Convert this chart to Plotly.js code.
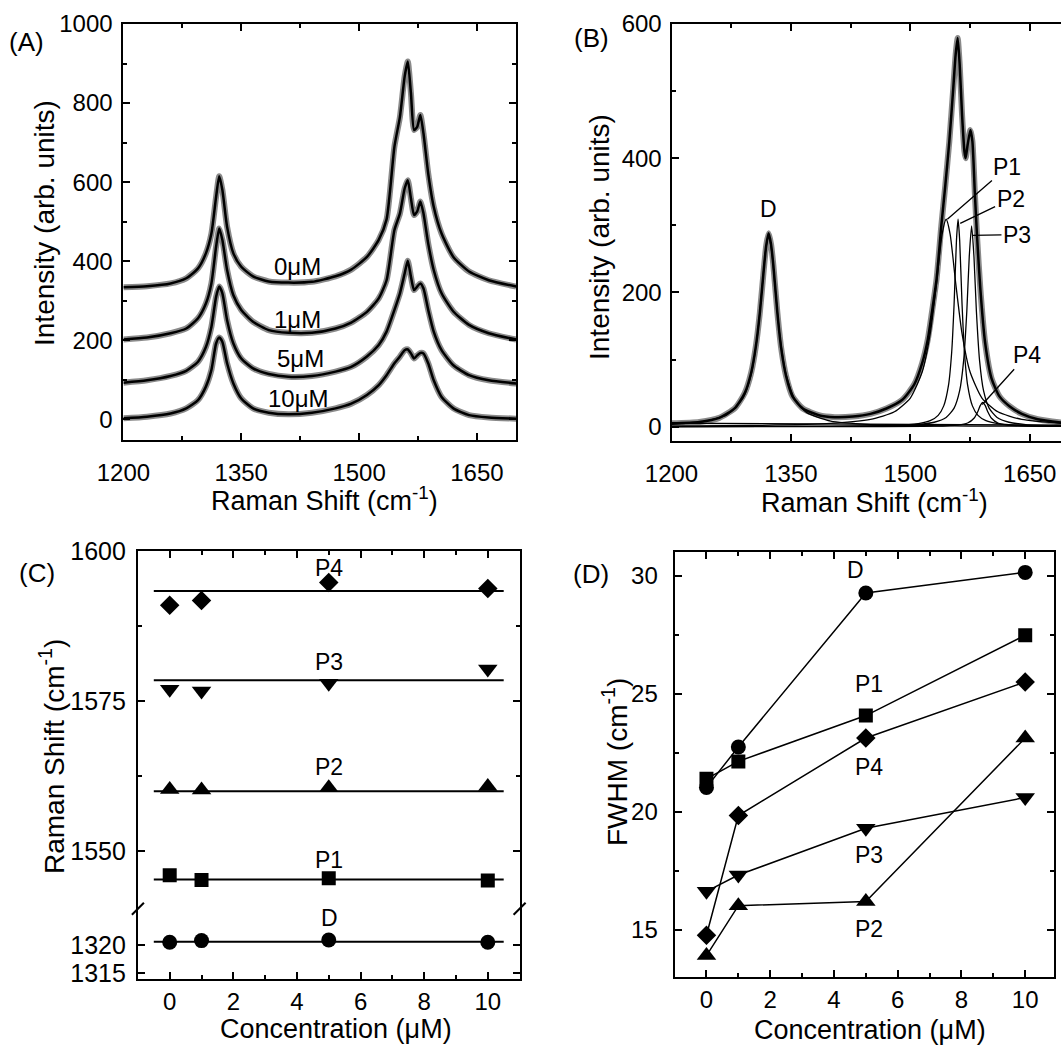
<!DOCTYPE html>
<html><head><meta charset="utf-8">
<script src="https://cdn.plot.ly/plotly-3.0.1.min.js"></script>
<style>html,body{margin:0;padding:0;background:#fff}</style>
</head><body><div id="chart" style="width:1061px;height:1045px"></div>
<script>
// ---------- Panel A: spectra at four concentrations (fit curves) ----------
const shiftA = [1200,1230,1260,1280,1295,1305,1312,1318,1322,1326,1332,1340,1350,1365,1385,1410,1440,1470,1490,1510,1525,1535,1545,1552,1558,1562,1566,1570,1574,1578,1582,1588,1595,1605,1620,1640,1665,1700];
const fit0uM  = [334,337,344,357,382,420,470,563,615,580,487,420,386,362,349,346,348,362,379,411,454,506,690,765,867,905,825,732,740,770,723,622,538,470,411,374,352,336];
const fit1uM  = [202,207,218,230,256,293,344,437,483,454,378,314,277,247,226,219,219,230,245,272,306,352,479,521,584,605,559,517,526,551,521,445,378,319,273,239,218,202];
const fit5uM  = [93,99,110,123,146,183,234,310,336,319,251,192,154,129,115,108,110,121,133,159,188,222,277,319,369,401,361,327,336,344,331,277,222,175,137,112,99,91];
const fit10uM = [3,7,15,28,49,83,125,192,207,196,142,91,53,28,17,13,17,28,40,62,87,112,142,159,175,177,167,154,162,168,167,142,99,57,28,11,5,2];
const labelsA = ['0\u03bcM','1\u03bcM','5\u03bcM','10\u03bcM'];
const labelAx = [1421,1421,1425,1423];
const labelAy = [386,253,154,53];

// ---------- Panel B: one spectrum with its Lorentzian components ----------
const shiftBT = [1200,1235,1260,1280,1292,1300,1306,1311,1316,1319,1322,1325,1328,1333,1338,1344,1352,1365,1385,1405,1428,1450,1470,1490,1505,1515,1522,1527,1533,1539,1544,1549,1554,1557,1559.5,1562,1565,1568,1569.5,1572,1575.5,1578,1581,1584,1588,1594,1602,1612,1625,1640,1660,1690];
const totalB  = [5,7,13,28,50,80,120,170,235,270,288,272,240,170,115,75,45,27,17,14,15,19,27,40,63,95,130,169,220,300,360,425,505,555,579,540,465,410,400,420,442,425,350,280,205,125,72,45,30,19,11,6];
const shiftBD = [1200,1240,1270,1290,1300,1308,1314,1318,1322,1326,1330,1336,1344,1355,1370,1400,1450,1500,1550,1600,1700];
const compD   = [3.4,7.5,17.9,42.7,77.4,136.4,209.5,260,283,260,209.5,136.4,77.4,40.5,20.8,8.2,3.1,1.6,1.0,0.7,0.4];
const shiftBP1 = [1200,1300,1400,1450,1480,1500,1515,1525,1533,1540,1545,1550,1557,1565,1575,1590,1610,1640,1700];
const compP1   = [0.8,1.7,4.7,10.7,22.1,42.6,81.7,138.5,214,287,309,287,214,138.5,81.7,42.6,22.1,10.7,4.1];
const shiftBP2 = [1200,1400,1480,1510,1525,1535,1542,1548,1552,1555,1558,1560,1562,1565,1568,1572,1578,1585,1595,1610,1640,1700];
const compP2   = [0.1,0.4,1.7,4.4,8.8,16.8,30.9,61.8,111.2,182.4,278.1,309,278.1,182.4,111.2,61.8,30.9,16.8,8.8,4.4,1.7,0.6];
const shiftBP3 = [1200,1400,1480,1510,1530,1545,1555,1562,1567,1571,1574,1577,1580,1583,1587,1592,1599,1609,1624,1645,1700];
const compP3   = [0.1,0.5,1.6,3.2,6.5,13.7,27.5,53.5,98.4,172.3,252.5,299,252.5,172.3,98.4,53.5,27.5,13.7,6.5,3.1,1.0];
const shiftBP4 = [1200,1450,1530,1560,1572,1580,1585,1588,1591,1594,1597,1602,1610,1622,1650,1700];
const compP4   = [0,0.1,0.6,2.3,5.4,12.5,23,31.6,36,31.6,23,12.5,5.4,2.3,0.7,0.2];
const baseX = [1200,1700];
const baseY = [5,2];
const peakNames = ['P1','P2','P3','P4'];
const peakTipX  = [1546.5,1562.7,1577.6,1590.4];
const peakTipY  = [309,303,285,33];
const peakTxtX  = [1622,1626,1634,1647];
const peakTxtY  = [387,339,286,107];

// ---------- Panels C & D: peak position and FWHM vs concentration ----------
const conc = [0,1,5,10];
const posD  = [1320.5,1320.8,1320.9,1320.5];
const posP1 = [1546.0,1545.2,1545.5,1545.1];
const posP2 = [1560.3,1560.2,1560.6,1560.8];
const posP3 = [1577.0,1576.7,1578.0,1580.4];
const posP4 = [1591.0,1591.8,1594.8,1593.8];
const fitConc = [-0.5,10.5];
const fitPosD  = [1320.6,1320.6];
const fitPosP1 = [1545.3,1545.3];
const fitPosP2 = [1560.0,1560.0];
const fitPosP3 = [1578.5,1578.5];
const fitPosP4 = [1593.4,1593.4];

const fwhmD  = [21.04,22.75,29.27,30.14];
const fwhmP1 = [21.4,22.14,24.08,27.48];
const fwhmP2 = [13.92,16.03,16.21,23.13];
const fwhmP3 = [16.64,17.33,19.31,20.61];
const fwhmP4 = [14.78,19.85,23.13,25.5];

// ---------- layout helpers ----------
const W = 1061, H = 1045;
const FONT = 'Arial, "Liberation Sans", sans-serif';
const px = v => v / W;
const py = v => 1 - v / H;
const BLACK = '#000', GRAY = '#8a8a8a';

function axis(extra) {
  return Object.assign({
    showline: true, linecolor: BLACK, linewidth: 2, mirror: 'ticks',
    ticks: 'inside', ticklen: 7, tickwidth: 2, tickcolor: BLACK,
    showgrid: false, zeroline: false, tickmode: 'linear',
    tickfont: {family: FONT, size: 24, color: BLACK},
    fixedrange: true
  }, extra);
}
function minor(d, t0) {
  const m = {ticks: 'inside', ticklen: 4, tickwidth: 2, tickcolor: BLACK, showgrid: false, dtick: d};
  if (t0 !== undefined) m.tick0 = t0;
  return m;
}

const traces = [];
// Panel A
const fitsA = [fit0uM, fit1uM, fit5uM, fit10uM];
fitsA.forEach(f => traces.push({x: shiftA, y: f, xaxis: 'x', yaxis: 'y', mode: 'lines',
  line: {color: GRAY, width: 6, shape: 'spline', smoothing: 0.6}, hoverinfo: 'skip', showlegend: false}));
fitsA.forEach(f => traces.push({x: shiftA, y: f, xaxis: 'x', yaxis: 'y', mode: 'lines',
  line: {color: BLACK, width: 2.5, shape: 'spline', smoothing: 0.6}, showlegend: false}));

// Panel B
traces.push({x: shiftBT, y: totalB, xaxis: 'x2', yaxis: 'y2', mode: 'lines',
  line: {color: GRAY, width: 6, shape: 'spline', smoothing: 0.6}, hoverinfo: 'skip', showlegend: false});
traces.push({x: baseX, y: baseY, xaxis: 'x2', yaxis: 'y2', mode: 'lines', line: {color: BLACK, width: 1.3}, showlegend: false});
[[shiftBD, compD], [shiftBP1, compP1], [shiftBP2, compP2], [shiftBP3, compP3], [shiftBP4, compP4]].forEach(c =>
  traces.push({x: c[0], y: c[1], xaxis: 'x2', yaxis: 'y2', mode: 'lines',
    line: {color: BLACK, width: 1.3, shape: 'spline', smoothing: 0.6}, showlegend: false}));
traces.push({x: shiftBT, y: totalB, xaxis: 'x2', yaxis: 'y2', mode: 'lines',
  line: {color: BLACK, width: 2.5, shape: 'spline', smoothing: 0.6}, showlegend: false});

// Panel C
const upperC = [[posP1, fitPosP1, 'square', 14], [posP2, fitPosP2, 'triangle-up', 17],
                [posP3, fitPosP3, 'triangle-down', 17], [posP4, fitPosP4, 'diamond', 15]];
traces.push({x: fitConc, y: fitPosD, xaxis: 'x3', yaxis: 'y3', mode: 'lines', line: {color: BLACK, width: 2}, showlegend: false});
traces.push({x: conc, y: posD, xaxis: 'x3', yaxis: 'y3', mode: 'markers', marker: {symbol: 'circle', size: 15, color: BLACK}, showlegend: false});
upperC.forEach(s => {
  traces.push({x: fitConc, y: s[1], xaxis: 'x4', yaxis: 'y4', mode: 'lines', line: {color: BLACK, width: 2}, showlegend: false});
  traces.push({x: conc, y: s[0], xaxis: 'x4', yaxis: 'y4', mode: 'markers', marker: {symbol: s[2], size: s[3], color: BLACK}, showlegend: false});
});

// Panel D
[[fwhmD, 'circle', 15], [fwhmP1, 'square', 14], [fwhmP2, 'triangle-up', 17], [fwhmP3, 'triangle-down', 17], [fwhmP4, 'diamond', 15]].forEach(s =>
  traces.push({x: conc, y: s[0], xaxis: 'x5', yaxis: 'y5', mode: 'lines+markers',
    line: {color: BLACK, width: 1.5}, marker: {symbol: s[1], size: s[2], color: BLACK}, showlegend: false}));

// ---------- annotations ----------
const ann = [];
function txt(x, y, text, size, extra) {
  ann.push(Object.assign({x: x, y: y, text: text, showarrow: false, xanchor: 'center', yanchor: 'middle',
    font: {family: FONT, size: size, color: BLACK}}, extra || {}));
}
// panel letters
txt(px(26), py(42), '(A)', 26, {xref: 'paper', yref: 'paper'});
txt(px(591), py(38), '(B)', 26, {xref: 'paper', yref: 'paper'});
txt(px(37), py(573), '(C)', 26, {xref: 'paper', yref: 'paper'});
txt(px(591), py(574), '(D)', 26, {xref: 'paper', yref: 'paper'});
// axis titles
const ramanTitle = 'Raman Shift (cm<sup>-1</sup>)';
txt(px(45), py(223), 'Intensity (arb. units)', 28, {xref: 'paper', yref: 'paper', textangle: -90});
txt(px(324), py(499), ramanTitle, 27, {xref: 'paper', yref: 'paper'});
txt(px(599), py(237), 'Intensity (arb. units)', 28, {xref: 'paper', yref: 'paper', textangle: -90});
txt(px(874), py(501), ramanTitle, 27, {xref: 'paper', yref: 'paper'});
txt(px(52), py(757), ramanTitle, 28, {xref: 'paper', yref: 'paper', textangle: -90});
txt(px(336), py(1029), 'Concentration (\u03bcM)', 27, {xref: 'paper', yref: 'paper'});
txt(px(615), py(762), 'FWHM (cm<sup>-1</sup>)', 28, {xref: 'paper', yref: 'paper', textangle: -90});
txt(px(870), py(1030), 'Concentration (\u03bcM)', 27, {xref: 'paper', yref: 'paper'});
// panel A concentration labels
labelsA.forEach((t, i) => txt(labelAx[i], labelAy[i], t, 24, {xref: 'x', yref: 'y'}));
// panel B labels
txt(1322, 324, 'D', 23, {xref: 'x2', yref: 'y2'});
peakNames.forEach((n, i) => ann.push({x: peakTipX[i], y: peakTipY[i], xref: 'x2', yref: 'y2',
  ax: peakTxtX[i], ay: peakTxtY[i], axref: 'x2', ayref: 'y2', text: n, showarrow: true,
  arrowhead: 0, arrowwidth: 1.3, arrowcolor: BLACK, standoff: 0, startstandoff: 0,
  font: {family: FONT, size: 23, color: BLACK}}));
// panel C labels
txt(5.02, 1597.3, 'P4', 23, {xref: 'x4', yref: 'y4'});
txt(5.02, 1581.5, 'P3', 23, {xref: 'x4', yref: 'y4'});
txt(5.02, 1564.0, 'P2', 23, {xref: 'x4', yref: 'y4'});
txt(5.02, 1548.5, 'P1', 23, {xref: 'x4', yref: 'y4'});
txt(5.02, 1324.9, 'D', 23, {xref: 'x3', yref: 'y3'});
// panel D labels
txt(4.66, 30.23, 'D', 23, {xref: 'x5', yref: 'y5'});
txt(5.1, 25.42, 'P1', 23, {xref: 'x5', yref: 'y5'});
txt(5.1, 21.91, 'P4', 23, {xref: 'x5', yref: 'y5'});
txt(5.1, 18.17, 'P3', 23, {xref: 'x5', yref: 'y5'});
txt(5.1, 15.05, 'P2', 23, {xref: 'x5', yref: 'y5'});

// axis-break marks in panel C
const brkY = 908.8;
const shapes = [137.9, 519.6].map(x0 => ({type: 'line', xref: 'paper', yref: 'paper',
  x0: px(x0 - 6), y0: py(brkY + 6), x1: px(x0 + 6), y1: py(brkY - 6), line: {color: BLACK, width: 2}}));

const layout = {
  width: W, height: H, margin: {l: 0, r: 0, t: 0, b: 0},
  paper_bgcolor: '#fff', plot_bgcolor: 'rgba(0,0,0,0)', showlegend: false,
  font: {family: FONT, color: BLACK},
  xaxis: axis({domain: [px(123.4), px(516.2)], range: [1200, 1700], tick0: 1200, dtick: 150, minor: minor(75), anchor: 'y', ticklabelstandoff: 10}),
  yaxis: axis({domain: [py(440), py(24)], range: [-52, 1000], tick0: 0, dtick: 200, minor: minor(100), anchor: 'x', ticklabelstandoff: 4}),
  xaxis2: axis({domain: [px(671.5), 1], range: [1200, 1689.3], tick0: 1200, dtick: 150, minor: minor(75), anchor: 'y2', ticklabelstandoff: 10}),
  yaxis2: axis({domain: [py(440.7), py(24)], range: [-21, 600], tick0: 0, dtick: 200, minor: minor(100), anchor: 'x2', mirror: false, ticklabelstandoff: 3}),
  xaxis3: axis({domain: [px(137.9), px(519.6)], range: [-1, 11], tick0: 0, dtick: 2, minor: minor(1), anchor: 'y3', mirror: false, ticklabelstandoff: 0}),
  yaxis3: axis({domain: [py(979.1), py(brkY)], range: [1313.9, 1326.5], tickmode: 'array', tickvals: [1315, 1320], anchor: 'x3', ticklabelstandoff: 5, tickfont: {family: FONT, size: 25, color: BLACK}}),
  xaxis4: axis({domain: [px(137.9), px(519.6)], range: [-1, 11], tick0: 0, dtick: 2, minor: minor(1), anchor: 'y4', side: 'top', showticklabels: false, mirror: false, matches: 'x3'}),
  yaxis4: axis({domain: [py(brkY), py(551.4)], range: [1540.4, 1600], tick0: 1550, dtick: 25, minor: minor(12.5, 1550), anchor: 'x4', ticklabelstandoff: 5, tickfont: {family: FONT, size: 25, color: BLACK}}),
  xaxis5: axis({domain: [px(674.6), px(1053.9)], range: [-1, 10.9], tick0: 0, dtick: 2, minor: minor(1), anchor: 'y5', ticklabelstandoff: 0}),
  yaxis5: axis({domain: [py(977.3), py(552.1)], range: [13, 31], tick0: 15, dtick: 5, minor: minor(2.5, 15), anchor: 'x5', ticklabelstandoff: 10}),
  annotations: ann,
  shapes: shapes
};

Plotly.newPlot('chart', traces, layout, {staticPlot: true, displayModeBar: false});
</script>
</body></html>
